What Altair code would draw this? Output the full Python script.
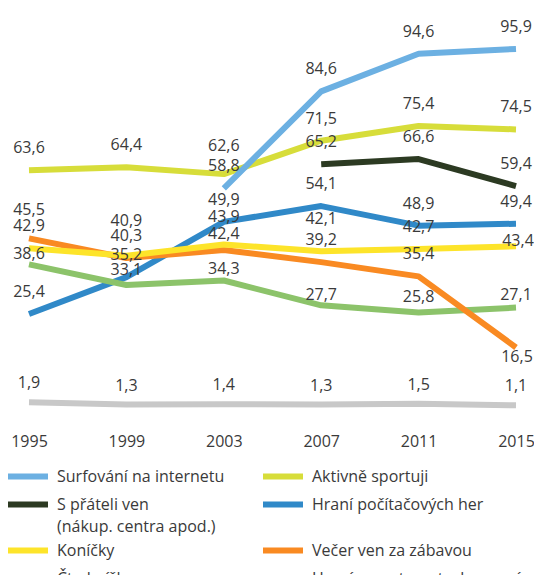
import altair as alt
import pandas as pd

years = [1995, 1999, 2003, 2007, 2011, 2015]

series_names = [
    "Surfování na internetu",
    "Aktivně sportuji",
    "S přáteli ven\n(nákup. centra apod.)",
    "Hraní počítačových her",
    "Koníčky",
    "Večer ven za zábavou",
    "Čtu knížky",
    "Hraní na automatech o peníze",
]
series_colors = [
    "#6cb0e2",
    "#d7dd3a",
    "#2c3a22",
    "#3089c8",
    "#fde42a",
    "#f98a22",
    "#8cc36a",
    "#c8c8c8",
]

internet = [None, None, 58.8, 84.6, 94.6, 95.9]
sport = [63.6, 64.4, 62.6, 71.5, 75.4, 74.5]
friends = [None, None, None, 65.2, 66.6, 59.4]
games = [25.4, 35.2, 49.9, 54.1, 48.9, 49.4]
hobbies = [42.9, 40.9, 43.9, 42.1, 42.7, 43.4]
evening = [45.5, 40.3, 42.4, 39.2, 35.4, 16.5]
books = [38.6, 33.1, 34.3, 27.7, 25.8, 27.1]
slots = [1.9, 1.3, 1.4, 1.3, 1.5, 1.1]

values = [internet, sport, friends, games, hobbies, evening, books, slots]

# drawing order (bottom -> top)
draw_order = [7, 3, 6, 5, 4, 2, 1, 0]

# label nudges (pixels), default above the point
DEFAULT_DY = -22
dy_override = {
    (5, 1995): -28, (6, 1995): -10,
    (4, 1999): -35, (6, 1999): -15,
    (1, 2003): -28, (4, 2003): -27, (5, 2003): -16, (6, 2003): -12,
    (4, 2007): -32, (6, 2007): -10,
    (6, 2011): -15,
    (4, 2015): -5, (6, 2015): -13, (5, 2015): 10,
}
for yr in years:
    dy_override[(7, yr)] = -19
dx_override = {(4, 2015): 2, (5, 2015): 1}

rows = []
for i, (name, vals) in enumerate(zip(series_names, values)):
    for yr, v in zip(years, vals):
        if v is None:
            continue
        rows.append({
            "series": name,
            "idx": i,
            "year": yr,
            "value": v,
            "dy": dy_override.get((i, yr), DEFAULT_DY),
            "dx": dx_override.get((i, yr), 0),
        })
df = pd.DataFrame(rows)

FONT = "Open Sans"
TEXT_COLOR = "#3a3a3a"

x_enc = alt.X(
    "year:Q",
    scale=alt.Scale(domain=[1995, 2015], nice=False, zero=False),
    axis=alt.Axis(
        values=years, format="d", title=None, grid=False, domain=False,
        ticks=False, labelFont=FONT, labelFontSize=16, labelColor=TEXT_COLOR,
        labelPadding=24, labelFlush=False,
    ),
)
y_enc = alt.Y("value:Q", scale=alt.Scale(domain=[0, 100], nice=False), axis=None)
color_enc = alt.Color(
    "series:N",
    scale=alt.Scale(domain=series_names, range=series_colors),
    legend=alt.Legend(
        title=None,
        orient="none",
        direction="horizontal",
        legendX=-24,
        legendY=435,
        columns=2,
        gridAlign="each",
        columnPadding=26,
        rowPadding=4,
        symbolType="M-4,0H4",
        symbolSize=100,
        symbolOffset=15,
        symbolStrokeWidth=6,
        labelFont=FONT,
        labelFontSize=16,
        labelColor=TEXT_COLOR,
        labelOffset=21,
        labelLimit=0,
        labelExpr="split(datum.label, '\\n')",
    ),
)

base = alt.Chart(df)
layers = []
for i in draw_order:
    layers.append(
        base.transform_filter(alt.datum.idx == i)
        .mark_line(strokeWidth=6, strokeCap="butt", strokeJoin="round")
        .encode(x=x_enc, y=y_enc, color=color_enc)
    )

offset_pairs = sorted(set(zip(df["dy"], df["dx"])))
for dy, dx in offset_pairs:
    layers.append(
        base.transform_filter((alt.datum.dy == dy) & (alt.datum.dx == dx))
        .transform_calculate(label="replace(format(datum.value, '.1f'), '.', ',')")
        .mark_text(font=FONT, fontSize=16, color=TEXT_COLOR, baseline="middle",
                   align="center", dy=float(dy), dx=float(dx))
        .encode(x=x_enc, y=y_enc, text="label:N")
    )

chart = (
    alt.layer(*layers)
    .properties(
        width=487,
        height=376,
        autosize=alt.AutoSizeParams(type="none"),
        padding={"left": 21, "top": 25.5, "right": 18, "bottom": 165.5},
    )
    .configure(style={"guide-label": {"lineHeight": 22}}, view={"stroke": None})
)

chart.save("out.html", embed_options={"renderer": "svg", "actions": False})
